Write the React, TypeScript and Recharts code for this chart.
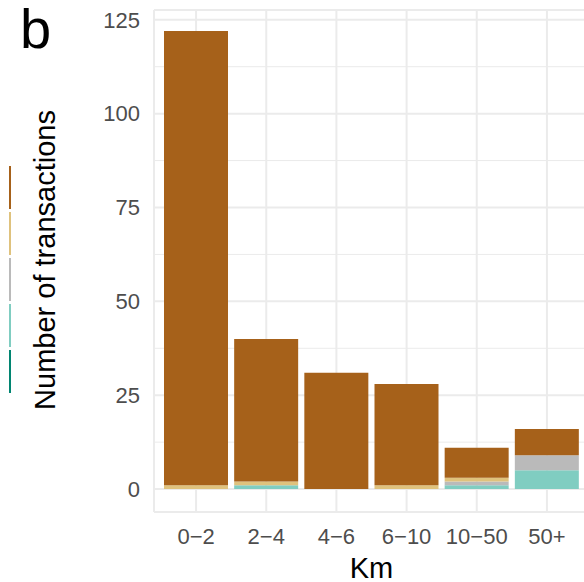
import React from 'react';
import { BarChart, Bar, XAxis, YAxis, CartesianGrid } from 'recharts';

// distance bands and transaction counts per group (bottom of stack first)
const categories = ['0−2', '2−4', '4−6', '6−10', '10−50', '50+'];
const darkTeal = [0, 0, 0, 0, 0, 0];
const lightTeal = [0, 1, 0, 0, 1, 5];
const grey = [0, 0, 0, 0, 1, 4];
const tan = [1, 1, 0, 1, 1, 0];
const brown = [121, 38, 31, 27, 8, 7];

const yTicks = [0, 25, 50, 75, 100, 125];
const yMinor = [12.5, 37.5, 62.5, 87.5, 112.5];

const SERIES = [
  { key: 'darkTeal', values: darkTeal, color: '#018571' },
  { key: 'lightTeal', values: lightTeal, color: '#80CDC1' },
  { key: 'grey', values: grey, color: '#BABABA' },
  { key: 'tan', values: tan, color: '#DFC27D' },
  { key: 'brown', values: brown, color: '#A6611A' },
];

const data = categories.map((km, i) => {
  const row: any = { km };
  SERIES.forEach((s) => {
    row[s.key] = s.values[i];
  });
  return row;
});

const FONT = '"Liberation Sans", Arial, Helvetica, sans-serif';
const GRID = '#EBEBEB';

const App: React.FC = () => {
  // legend keys are drawn top to bottom: brown first
  const legendOrder = [...SERIES].reverse();

  return (
    <div style={{ position: 'absolute', left: 0, top: 0, width: 584, height: 582, overflow: 'hidden', background: '#fff', fontFamily: FONT }}>
      <BarChart width={589} height={582} data={data} margin={{ top: 10, right: 0, left: 0, bottom: 0 }}>
        <CartesianGrid stroke={GRID} strokeWidth={1} vertical={false} horizontalValues={yMinor} />
        <CartesianGrid stroke={GRID} strokeWidth={2} />
        <XAxis
          dataKey="km"
          height={70}
          padding={{ left: 7, right: 7 }}
          tickLine={false}
          axisLine={false}
          tickMargin={10}
          interval={0}
          tick={{ fontSize: 22, fill: '#4D4D4D', fontFamily: FONT }}
          label={{
            content: (props: any) => {
              const vb = props.viewBox || {};
              return (
                <text x={vb.x + vb.width / 2} y={578} textAnchor="middle" fontSize={29} fill="#000" fontFamily={FONT}>
                  Km
                </text>
              );
            },
          }}
        />
        <YAxis
          width={154}
          domain={[-6.1, 127.6]}
          ticks={yTicks}
          allowDataOverflow
          tickLine={false}
          axisLine={false}
          tickMargin={8}
          tick={{ fontSize: 22, fill: '#4D4D4D', fontFamily: FONT }}
          label={{
            content: () => (
              <text transform="rotate(-90)" x={-260} y={55} textAnchor="middle" fontSize={29} fill="#000" fontFamily={FONT}>
                Number of transactions
              </text>
            ),
          }}
        />
        {SERIES.map((s) => (
          <Bar key={s.key} dataKey={s.key} stackId="a" fill={s.color} barSize={64} isAnimationActive={false} />
        ))}
      </BarChart>

      <div style={{ position: 'absolute', left: 20, top: 1, fontSize: 56, lineHeight: '56px', color: '#000', fontFamily: FONT }}>b</div>

      {legendOrder.map((s, i) => (
        <div
          key={s.key}
          style={{ position: 'absolute', left: 9, top: 166 + i * 46, width: 1.5, height: 43, background: s.color }}
        />
      ))}
    </div>
  );
};

export default App;
